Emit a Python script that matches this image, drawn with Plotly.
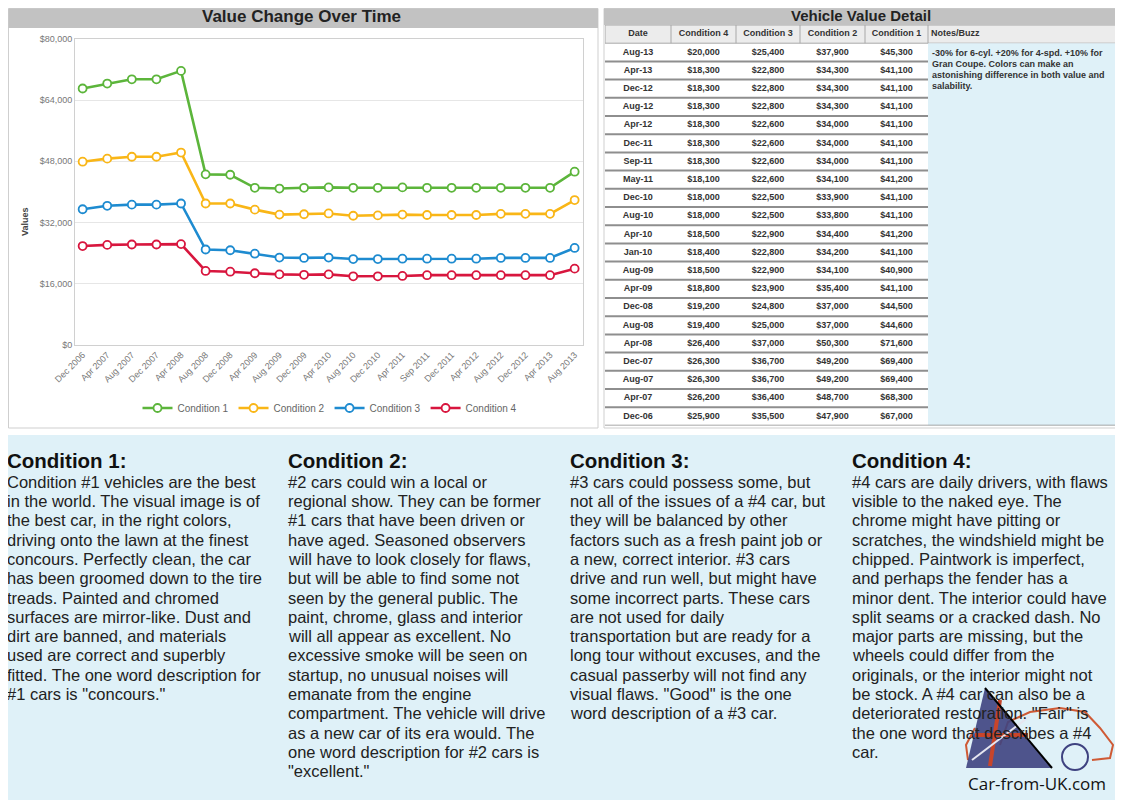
import plotly.graph_objects as go

# the page body adds an 8px margin; the figure is sized and shifted so that
# reference pixel coordinates land in place
OFF = 8
W, H = 1123 - OFF, 800 - OFF


def px(x):
    return (x - OFF) / W


def py(y):
    return 1 - (y - OFF) / H


# ---------------- data ----------------
chart_labels = ["Dec 2006", "Apr 2007", "Aug 2007", "Dec 2007", "Apr 2008", "Aug 2008",
                "Dec 2008", "Apr 2009", "Aug 2009", "Dec 2009", "Apr 2010", "Aug 2010",
                "Dec 2010", "Apr 2011", "Sep 2011", "Dec 2011", "Apr 2012", "Aug 2012",
                "Dec 2012", "Apr 2013", "Aug 2013"]

table_dates = ["Aug-13", "Apr-13", "Dec-12", "Aug-12", "Apr-12", "Dec-11", "Sep-11",
               "May-11", "Dec-10", "Aug-10", "Apr-10", "Jan-10", "Aug-09", "Apr-09",
               "Dec-08", "Aug-08", "Apr-08", "Dec-07", "Aug-07", "Apr-07", "Dec-06"]

cond4 = [20000, 18300, 18300, 18300, 18300, 18300, 18300, 18100, 18000, 18000, 18500,
         18400, 18500, 18800, 19200, 19400, 26400, 26300, 26300, 26200, 25900]
cond3 = [25400, 22800, 22800, 22800, 22600, 22600, 22600, 22600, 22500, 22500, 22900,
         22800, 22900, 23900, 24800, 25000, 37000, 36700, 36700, 36400, 35500]
cond2 = [37900, 34300, 34300, 34300, 34000, 34000, 34000, 34100, 33900, 33800, 34400,
         34200, 34100, 35400, 37000, 37000, 50300, 49200, 49200, 48700, 47900]
cond1 = [45300, 41100, 41100, 41100, 41100, 41100, 41100, 41200, 41100, 41100, 41200,
         41100, 40900, 41100, 44500, 44600, 71600, 69400, 69400, 68300, 67000]

series_names = ["Condition 1", "Condition 2", "Condition 3", "Condition 4"]
series_values = [cond1, cond2, cond3, cond4]
series_colors = ["#5cb53b", "#f9b617", "#1e8bd0", "#d8163e"]

y_ticks = [0, 16000, 32000, 48000, 64000, 80000]
y_tick_labels = ["$0", "$16,000", "$32,000", "$48,000", "$64,000", "$80,000"]

table_headers = ["Date", "Condition 4", "Condition 3", "Condition 2", "Condition 1", "Notes/Buzz"]
table_columns = [cond4, cond3, cond2, cond1]
notes_lines = ["-30% for 6-cyl. +20% for 4-spd. +10% for",
               "Gran Coupe. Colors can make an",
               "astonishing difference in both value and",
               "salability."]

desc_titles = ["Condition 1:", "Condition 2:", "Condition 3:", "Condition 4:"]
desc_lines = [
    ["Condition #1 vehicles are the best",
     "in the world. The visual image is of",
     "the best car, in the right colors,",
     "driving onto the lawn at the finest",
     "concours. Perfectly clean, the car",
     "has been groomed down to the tire",
     "treads. Painted and chromed",
     "surfaces are mirror-like. Dust and",
     "dirt are banned, and materials",
     "used are correct and superbly",
     "fitted. The one word description for",
     "#1 cars is \"concours.\""],
    ["#2 cars could win a local or",
     "regional show. They can be former",
     "#1 cars that have been driven or",
     "have aged. Seasoned observers",
     "will have to look closely for flaws,",
     "but will be able to find some not",
     "seen by the general public. The",
     "paint, chrome, glass and interior",
     "will all appear as excellent. No",
     "excessive smoke will be seen on",
     "startup, no unusual noises will",
     "emanate from the engine",
     "compartment. The vehicle will drive",
     "as a new car of its era would. The",
     "one word description for #2 cars is",
     "\"excellent.\""],
    ["#3 cars could possess some, but",
     "not all of the issues of a #4 car, but",
     "they will be balanced by other",
     "factors such as a fresh paint job or",
     "a new, correct interior. #3 cars",
     "drive and run well, but might have",
     "some incorrect parts. These cars",
     "are not used for daily",
     "transportation but are ready for a",
     "long tour without excuses, and the",
     "casual passerby will not find any",
     "visual flaws. \"Good\" is the one",
     "word description of a #3 car."],
    ["#4 cars are daily drivers, with flaws",
     "visible to the naked eye. The",
     "chrome might have pitting or",
     "scratches, the windshield might be",
     "chipped. Paintwork is imperfect,",
     "and perhaps the fender has a",
     "minor dent. The interior could have",
     "split seams or a cracked dash. No",
     "major parts are missing, but the",
     "wheels could differ from the",
     "originals, or the interior might not",
     "be stock. A #4 car can also be a",
     "deteriorated restoration. \"Fair\" is",
     "the one word that describes a #4",
     "car."],
]

FONT = "Liberation Sans, Arial, sans-serif"
LIGHT_BLUE = "#dff1f8"

fig = go.Figure()

# ---------------- line chart ----------------
for name, vals, col in zip(series_names, series_values, series_colors):
    fig.add_trace(go.Scatter(
        x=chart_labels, y=list(reversed(vals)), name=name,
        mode="lines+markers",
        line=dict(color=col, width=2.6),
        marker=dict(size=8, color="white", line=dict(color=col, width=1.8)),
        xaxis="x", yaxis="y",
    ))

# ---------------- table (text on its own axes) ----------------
col_w = [66, 65, 64, 65, 63, 190]
edges = [0]
for w in col_w:
    edges.append(edges[-1] + w)
centers = [(edges[i] + edges[i + 1]) / 2 for i in range(len(col_w))]
n_rows = len(table_dates)
row_h = 18.2
table_top = 25
table_bot = table_top + (n_rows + 1) * row_h
row_idx = list(range(1, n_rows + 1))
tfont = dict(family=FONT, size=9, color="#333")

fig.add_trace(go.Scatter(
    x=centers[:5] + [edges[5] + 3], y=[0] * 6,
    text=["<b>%s</b>" % h for h in table_headers], mode="text",
    textposition=["middle center"] * 5 + ["middle right"], textfont=tfont,
    showlegend=False, hoverinfo="skip", cliponaxis=False, xaxis="x2", yaxis="y2"))
fig.add_trace(go.Scatter(
    x=[centers[0]] * n_rows, y=row_idx, text=["<b>%s</b>" % d for d in table_dates],
    mode="text", textfont=tfont, showlegend=False, hoverinfo="skip", cliponaxis=False,
    xaxis="x2", yaxis="y2"))
for ci, colvals in enumerate(table_columns, start=1):
    fig.add_trace(go.Scatter(
        x=[centers[ci]] * n_rows, y=row_idx,
        text=["<b>$%s</b>" % format(v, ",") for v in colvals],
        mode="text", textfont=tfont, showlegend=False, hoverinfo="skip",
        cliponaxis=False, xaxis="x2", yaxis="y2"))

fig.update_layout(
    xaxis=dict(domain=[px(75), px(583)], type="category", range=[-0.31, 20.34],
               tickangle=-45, tickfont=dict(size=9, color="#777", family=FONT),
               showgrid=False, showline=True, linecolor="#d0d0d0", mirror=True, ticks="",
               automargin=False, fixedrange=True),
    yaxis=dict(domain=[py(345.3), py(38.7)], range=[0, 80000], tickvals=y_ticks,
               ticktext=y_tick_labels, tickfont=dict(size=9, color="#777", family=FONT),
               gridcolor="#e6e6e6", showline=True, linecolor="#d0d0d0", mirror=True,
               zeroline=False, ticks="", automargin=False, fixedrange=True),
    xaxis2=dict(domain=[px(605), px(1118)], range=[0, edges[-1]], visible=False,
                anchor="y2", automargin=False, fixedrange=True),
    yaxis2=dict(domain=[py(table_bot), py(table_top)], range=[n_rows + 0.5, -0.5],
                visible=False, anchor="x2", automargin=False, fixedrange=True),
)

shapes = []
# bottom light-blue band
shapes.append(dict(type="rect", xref="paper", yref="paper", x0=px(0), x1=px(1123),
                   y0=py(800), y1=py(435), fillcolor=LIGHT_BLUE, line_width=0, layer="below"))
# left panel
shapes.append(dict(type="rect", xref="paper", yref="paper", x0=px(8.5), x1=px(598),
                   y0=py(428), y1=py(8.5), fillcolor="white",
                   line=dict(color="#cfcfcf", width=1), layer="below"))
shapes.append(dict(type="rect", xref="paper", yref="paper", x0=px(8.5), x1=px(598),
                   y0=py(28), y1=py(8.5), fillcolor="#c2c2c2", line_width=0, layer="below"))
# right panel
shapes.append(dict(type="rect", xref="paper", yref="paper", x0=px(604), x1=px(1119),
                   y0=py(428), y1=py(8.5), fillcolor="white",
                   line=dict(color="#cfcfcf", width=1), layer="below"))
shapes.append(dict(type="rect", xref="paper", yref="paper", x0=px(604), x1=px(1119),
                   y0=py(25), y1=py(8.5), fillcolor="#c2c2c2", line_width=0, layer="below"))
# table header row
shapes.append(dict(type="rect", xref="x2", yref="y2", x0=0, x1=edges[-1], y0=-0.5, y1=0.5,
                   fillcolor="#ececec", line=dict(color="#a8a8a8", width=1), layer="below"))
for e in edges[1:-1]:
    shapes.append(dict(type="line", xref="x2", yref="y2", x0=e, x1=e, y0=-0.5, y1=0.5,
                       line=dict(color="#a8a8a8", width=1)))
# notes column
shapes.append(dict(type="rect", xref="x2", yref="y2", x0=edges[5], x1=edges[6],
                   y0=0.5, y1=n_rows + 0.5, fillcolor=LIGHT_BLUE, line_width=0, layer="below"))
# row separators
for r in range(1, n_rows):
    shapes.append(dict(type="line", xref="x2", yref="y2", x0=0, x1=edges[5],
                       y0=r + 0.5, y1=r + 0.5, line=dict(color="#8e8e8e", width=2)))
shapes.append(dict(type="line", xref="x2", yref="y2", x0=0, x1=edges[-1],
                   y0=n_rows + 0.55, y1=n_rows + 0.55, line=dict(color="#8a8a8a", width=3)))


# logo (flag triangle + car outline)
def pth(pts, close=True):
    s = "M " + " L ".join("%f,%f" % (px(a), py(b)) for a, b in pts)
    return s + (" Z" if close else "")


shapes.append(dict(type="path", xref="paper", yref="paper",
                   path=pth([(1000, 745), (1008, 722), (1030, 712), (1060, 708),
                             (1085, 712), (1100, 728), (1113, 745), (1110, 758),
                             (1092, 760)], close=False),
                   line=dict(color="#cf5a35", width=2)))
shapes.append(dict(type="path", xref="paper", yref="paper",
                   path=pth([(968, 760), (966, 745), (975, 728)], close=False),
                   line=dict(color="#cf5a35", width=2)))
shapes.append(dict(type="path", xref="paper", yref="paper",
                   path=pth([(985, 688), (966, 768), (1052, 768)]),
                   fillcolor="#3e4280", line_width=0, opacity=0.9))
shapes.append(dict(type="line", xref="paper", yref="paper", x0=px(990), x1=px(1000),
                   y0=py(766), y1=py(700), line=dict(color="#c8452a", width=4)))
shapes.append(dict(type="line", xref="paper", yref="paper", x0=px(975), x1=px(1028),
                   y0=py(735), y1=py(735), line=dict(color="#c8452a", width=4)))
shapes.append(dict(type="line", xref="paper", yref="paper", x0=px(972), x1=px(1030),
                   y0=py(760), y1=py(716), line=dict(color="#e6e6f0", width=2)))
shapes.append(dict(type="circle", xref="paper", yref="paper", x0=px(1062), x1=px(1088),
                   y0=py(770), y1=py(744), line=dict(color="#3e4280", width=2)))
shapes.append(dict(type="line", xref="paper", yref="paper", x0=px(985), x1=px(1052),
                   y0=py(688), y1=py(768), line=dict(color="black", width=2)))

annotations = []


def ann(text, x, y, size, color="#222", family=FONT, xanchor="left", **kw):
    annotations.append(dict(text=text, x=px(x), y=py(y), xref="paper", yref="paper",
                            showarrow=False, xanchor=xanchor, yanchor="middle",
                            font=dict(family=family, size=size, color=color), **kw))


ann("<b>Value Change Over Time</b>", 301, 17, 17, xanchor="center")
ann("<b>Vehicle Value Detail</b>", 861, 16, 15, xanchor="center")
ann("<b>Values</b>", 25, 222, 9, color="#444", xanchor="center", textangle=-90)
for i, line in enumerate(notes_lines):
    ann("<b>%s</b>" % line, 930, 53.3 + i * 10.9, 9, color="#333")

col_x = [5, 286, 568, 850]
for cx, title, lines in zip(col_x, desc_titles, desc_lines):
    ann("<b>%s</b>" % title, cx, 460, 20.5, color="#111")
    for i, line in enumerate(lines):
        ann(line, cx, 481.7 + i * 19.3, 16.5)

ann("Car-from-UK.com", 1037, 783, 17, color="#111", family="Open Sans, sans-serif",
    xanchor="center")

fig.update_layout(
    width=W, height=H, autosize=False,
    margin=dict(l=0, r=0, t=0, b=0, pad=0, autoexpand=False),
    paper_bgcolor="white", plot_bgcolor="rgba(0,0,0,0)",
    shapes=shapes, annotations=annotations,
    showlegend=True,
    legend=dict(orientation="h", x=px(330), xanchor="center", y=py(408), yanchor="middle",
                font=dict(family=FONT, size=10, color="#666"), bgcolor="rgba(0,0,0,0)"),
)

fig.write_html("out.html")
